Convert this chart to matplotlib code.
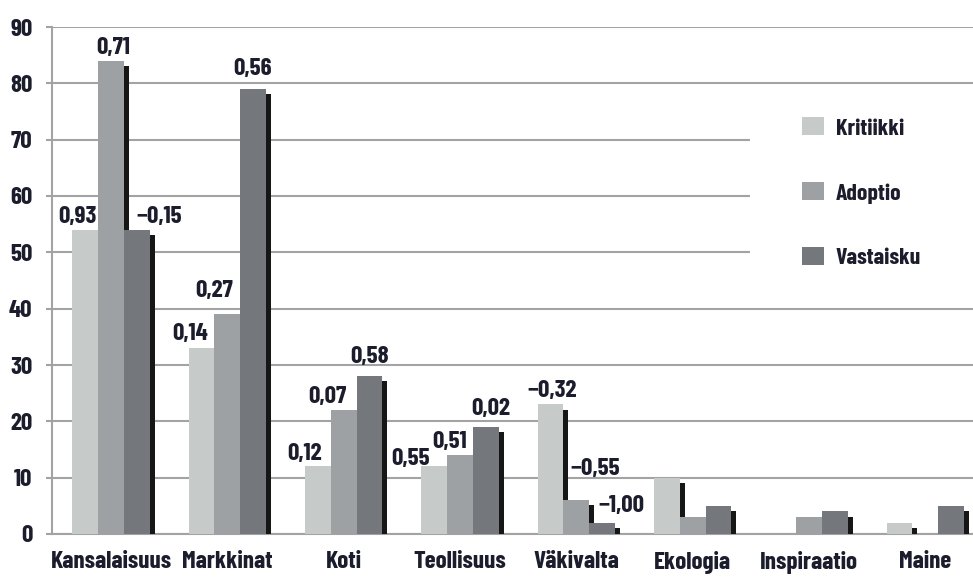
import numpy as np
import matplotlib
matplotlib.use("Agg")
import matplotlib.pyplot as plt
from matplotlib.patches import Rectangle

plt.rcParams["font.family"] = ["Barlow Condensed", "DejaVu Sans"]
plt.rcParams["font.weight"] = 700

categories = ["Kansalaisuus", "Markkinat", "Koti", "Teollisuus",
              "Väkivalta", "Ekologia", "Inspiraatio", "Maine"]
series = ["Kritiikki", "Adoptio", "Vastaisku"]

kritiikki = [54, 33, 12, 12, 23, 10, 0, 2]
adoptio = [84, 39, 22, 14, 6, 3, 3, 0]
vastaisku = [54, 79, 28, 19, 2, 5, 4, 5]

kritiikki_labels = ["0,93", "0,14", "0,12", "0,55", "−0,32", None, None, None]
adoptio_labels = ["0,71", "0,27", "0,07", "0,51", "−0,55", None, None, None]
vastaisku_labels = ["−0,15", "0,56", "0,58", "0,02", "−1,00", None, None, None]

# label nudges in pixels (dx, dy) relative to bar top centre
kritiikki_nudge = [(-8, 7), (-11, 8), (-13, 6), (-24, 1), (2, 7)]
adoptio_nudge = [(2, 7), (-13, 17), (-16, 7), (-10, 7), (19, 25)]
vastaisku_nudge = [(22, 7), (-1, 14), (0, 13), (5, 12), (19, 11)]

colors = ["#c6cac9", "#9da1a4", "#74787d"]
shadow = "#161616"
text_col = "#1b1d2c"

fig = plt.figure(figsize=(9.73, 5.78), dpi=100)
ax = fig.add_axes([52 / 973, 1 - 534 / 578, 921 / 973, 507 / 578])

x = np.arange(len(categories))
w = 0.222
sw = 0.043
drop = 0.9

data = [kritiikki, adoptio, vastaisku]
labels = [kritiikki_labels, adoptio_labels, vastaisku_labels]
nudges = [kritiikki_nudge, adoptio_nudge, vastaisku_nudge]

z = 3
for i, (vals, col, name) in enumerate(zip(data, colors, series)):
    pos = x + (i - 1) * w
    vals = np.array(vals, dtype=float)
    ax.bar(pos, vals, width=w, color=col, label=name, zorder=z)
    sh = np.clip(vals - drop, 0, None)
    ax.bar(pos + w / 2, sh, width=sw, align="edge", color=shadow, zorder=z + 1)
    z += 2
    for j, lab in enumerate(labels[i]):
        if lab is None:
            continue
        dx, dy = nudges[i][j]
        ax.annotate(lab, (pos[j], vals[j]), xytext=(dx, dy),
                    textcoords="offset pixels", ha="center", va="baseline",
                    fontsize=18, color=text_col, zorder=20)

ax.set_xlim(-0.507, 7.41)
ax.set_ylim(0, 90)
ax.set_yticks(range(0, 91, 10))
ax.set_xticks(x)
ax.set_xticklabels(categories)
ax.yaxis.grid(True, color="#a3a3a3", linewidth=1.5, zorder=0)
ax.set_axisbelow(True)

for s in ["top", "right"]:
    ax.spines[s].set_visible(False)
for s in ["left", "bottom"]:
    ax.spines[s].set_color("#a3a3a3")
    ax.spines[s].set_linewidth(1.5)

ax.tick_params(axis="y", length=4, width=1.5, color="#a3a3a3", pad=10,
               labelsize=18, labelcolor=text_col)
ax.tick_params(axis="x", length=0, pad=12, labelsize=18, labelcolor=text_col)

# white area behind the legend that hides the grid lines
ax.add_patch(Rectangle((0.758, 0.47), 0.3, 0.39, transform=ax.transAxes,
                       facecolor="white", edgecolor="none", zorder=2))

leg = ax.legend(loc="upper left", bbox_to_anchor=(0.802, 0.845), frameon=False,
                fontsize=17, handlelength=0.9, handleheight=0.8,
                handletextpad=0.5, labelspacing=1.85, borderpad=0)
for t in leg.get_texts():
    t.set_color(text_col)
leg.set_zorder(25)

fig.savefig("out.png", dpi=100)
